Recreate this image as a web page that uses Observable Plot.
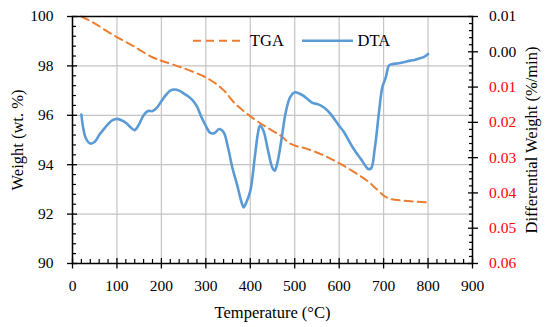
<!DOCTYPE html>
<html>
<head>
<meta charset="utf-8">
<script src="https://cdn.jsdelivr.net/npm/d3@7"></script>
<script src="https://cdn.jsdelivr.net/npm/@observablehq/plot@0.6"></script>
<style>
  html, body { margin: 0; padding: 0; background: #fff; }
  #wrap { position: relative; width: 550px; height: 327px; font-family: "Liberation Serif", "Times New Roman", serif; }
  #wrap svg text { font-family: "Liberation Serif", "Times New Roman", serif !important; }
  #legend { position: absolute; left: 0; top: 0; pointer-events: none; }
</style>
</head>
<body>
<div id="wrap"></div>
<script>
// ---- data ----
const seriesNames = ["TGA", "DTA"];
const seriesColors = ["#ED7D31", "#5B9BD5"];

// TGA: temperature (°C) vs weight (wt. %), left axis
const tgaTemp   = [20, 45, 90, 135, 180, 203, 248, 296, 318, 341, 363, 393, 431, 468, 491, 528, 566, 601, 641, 663, 686, 701, 716, 746, 800];
const tgaWeight = [100.0, 99.77, 99.27, 98.82, 98.35, 98.19, 97.92, 97.57, 97.34, 97.0, 96.53, 96.06, 95.58, 95.18, 94.84, 94.64, 94.37, 94.05, 93.62, 93.35, 92.98, 92.74, 92.61, 92.54, 92.47];

// DTA: temperature (°C) vs differential weight (%/min), right axis
const dtaTemp  = [20, 24, 30, 40, 50, 60, 70, 80, 90, 100, 110, 120, 130, 140, 150, 160, 170, 180, 190, 200,
                  210, 220, 230, 240, 250, 260, 270, 280, 290, 300, 310, 320, 330, 340, 350, 360, 370, 380, 385, 390,
                  400, 410, 418, 422, 430, 440, 450, 455, 460, 470, 480, 490, 500, 510, 520, 530, 540, 550, 560, 570,
                  580, 590, 600, 610, 620, 630, 640, 650, 660, 665, 672, 680, 690, 697, 705, 712, 720, 730, 740, 750,
                  760, 770, 780, 790, 800];
const dtaValue = [-0.0178, -0.0215, -0.0245, -0.0260, -0.0255, -0.0236, -0.0220, -0.0205, -0.0194, -0.0190,
                  -0.0194, -0.0201, -0.0213, -0.0222, -0.0205, -0.0180, -0.0168, -0.0168, -0.0158, -0.0140,
                  -0.0123, -0.0110, -0.0107, -0.0110, -0.0118, -0.0126, -0.0137, -0.0155, -0.0185, -0.0210,
                  -0.0230, -0.0230, -0.0219, -0.0228, -0.0272, -0.0330, -0.0375, -0.0425, -0.0441, -0.0430,
                  -0.0395, -0.0300, -0.0225, -0.0209, -0.0225, -0.0280, -0.0330, -0.0337, -0.0320, -0.0250,
                  -0.0170, -0.0128, -0.0115, -0.0118, -0.0125, -0.0135, -0.0145, -0.0148, -0.0153, -0.0162,
                  -0.0175, -0.0192, -0.0210, -0.0226, -0.0248, -0.0270, -0.0289, -0.0306, -0.0325, -0.0332,
                  -0.0330, -0.0275, -0.0167, -0.0101, -0.0072, -0.0039, -0.0035, -0.0033, -0.0031, -0.0028,
                  -0.0025, -0.0023, -0.0019, -0.0015, -0.0006];

// ticks
const xTicks      = [0, 100, 200, 300, 400, 500, 600, 700, 800, 900];
const yLeftTicks  = [90, 92, 94, 96, 98, 100];
const yRightTicks = [0.01, 0.00, -0.01, -0.02, -0.03, -0.04, -0.05, -0.06];
const xTitle = "Temperature (°C)";
const yLeftTitle = "Weight (wt. %)";
const yRightTitle = "Differential Weight (%/min)";

// ---- build ----
const serif = '"Liberation Serif", "Times New Roman", serif';
const rightDomain = [-0.06, 0.01];
const leftDomain = [90, 100];
const toLeft = v => leftDomain[0] + (v - rightDomain[0]) / (rightDomain[1] - rightDomain[0]) * (leftDomain[1] - leftDomain[0]);
const fromLeft = y => rightDomain[0] + (y - leftDomain[0]) / (leftDomain[1] - leftDomain[0]) * (rightDomain[1] - rightDomain[0]);

const tga = tgaTemp.map((t, i) => ({t, w: tgaWeight[i]}));
const dta = dtaTemp.map((t, i) => ({t, y: toLeft(dtaValue[i])}));

const xMinor = d3.range(0, 46).map(i => i * 20).filter(d => d % 100 !== 0);
const yLeftMinor = d3.range(0, 26).filter(i => i % 5 !== 0).map(i => 90 + i * 0.4);
const yRightMajor = yRightTicks.map(toLeft);
const yRightMinor = d3.range(0, 36).filter(i => i % 5 !== 0).map(i => toLeft(-0.06 + i * 0.002));
const rightBlack = yRightTicks.filter(v => v >= 0).map(toLeft);
const rightRed = yRightTicks.filter(v => v < 0).map(toLeft);
const fmtRight = d => Math.abs(fromLeft(d)).toFixed(2);

const grid = "#c4c4c4";
const chart = Plot.plot({
  width: 550,
  height: 327,
  marginLeft: 72,
  marginRight: 78,
  marginTop: 16,
  marginBottom: 64,
  style: {fontFamily: serif, fontSize: "15.5px", background: "white", color: "black", overflow: "visible"},
  x: {domain: [0, 900]},
  y: {domain: leftDomain},
  marks: [
    Plot.gridX(xTicks, {stroke: grid, strokeOpacity: 1, strokeWidth: 1.2}),
    Plot.gridY(yLeftTicks, {stroke: grid, strokeOpacity: 1, strokeWidth: 1.2}),
    Plot.line(tga, {x: "t", y: "w", stroke: seriesColors[0], strokeWidth: 2, strokeDasharray: "8,5", curve: "catmull-rom"}),
    Plot.line(dta, {x: "t", y: "y", stroke: seriesColors[1], strokeWidth: 2.6, curve: "catmull-rom"}),
    Plot.frame({stroke: "black", strokeWidth: 1.5}),
    // bottom axis ticks
    Plot.axisX(xTicks, {anchor: "bottom", tickSize: 5.5, fill: "none", label: null, strokeWidth: 1.3}),
    Plot.axisX(xTicks, {anchor: "bottom", tickSize: -5, fill: "none", label: null, strokeWidth: 1.3}),
    Plot.axisX(xMinor, {anchor: "bottom", tickSize: -4, fill: "none", label: null, strokeWidth: 1.2}),
    Plot.axisX(xTicks, {anchor: "bottom", tickSize: 0, tickPadding: 16, tickFormat: d => String(d),
      label: xTitle, labelAnchor: "center", labelOffset: 54, labelArrow: "none", fontSize: 15.5}),
    // left axis
    Plot.axisY(yLeftTicks, {anchor: "left", tickSize: 5, fill: "none", label: null, strokeWidth: 1.3}),
    Plot.axisY(yLeftTicks, {anchor: "left", tickSize: -5, fill: "none", label: null, strokeWidth: 1.3}),
    Plot.axisY(yLeftMinor, {anchor: "left", tickSize: -4, fill: "none", label: null, strokeWidth: 1.2}),
    Plot.axisY(yLeftTicks, {anchor: "left", tickSize: 0, tickPadding: 19, tickFormat: d => String(d),
      label: yLeftTitle, labelAnchor: "center", labelOffset: 61, labelArrow: "none", fontSize: 15.5}),
    // right axis
    Plot.axisY(yRightMajor, {anchor: "right", tickSize: 5, fill: "none", label: null, strokeWidth: 1.3}),
    Plot.axisY(yRightMajor, {anchor: "right", tickSize: -5, fill: "none", label: null, strokeWidth: 1.3}),
    Plot.axisY(yRightMinor, {anchor: "right", tickSize: -4, fill: "none", label: null, strokeWidth: 1.2}),
    Plot.axisY(rightBlack, {anchor: "right", tickSize: 0, tickPadding: 16.5, tickFormat: fmtRight,
      label: yRightTitle, labelAnchor: "center", labelOffset: 64, labelArrow: "none", fontSize: 15.5}),
    Plot.axisY(rightRed, {anchor: "right", tickSize: 0, tickPadding: 16.5, tickFormat: fmtRight,
      fill: "#ff0000", label: null, fontSize: 15.5, ariaLabel: "right-red-labels"})
  ]
});
// axis titles slightly larger than tick labels
d3.select(chart).selectAll("g[aria-label='x-axis label'] text, g[aria-label='y-axis label'] text")
  .style("font-size", "16.5px");
d3.select(chart).selectAll("g[aria-label='right-red-labels'] text").attr("fill", "#ff0000");
document.getElementById("wrap").appendChild(chart);

// ---- legend (inside plot area, no background) ----
const leg = d3.select("#wrap").append("svg")
  .attr("id", "legend").attr("width", 550).attr("height", 327)
  .style("font-family", serif).style("font-size", "16.5px");
const legItems = [
  {name: seriesNames[0], color: seriesColors[0], dash: "8,5", w: 2, x0: 193, x1: 243, tx: 250},
  {name: seriesNames[1], color: seriesColors[1], dash: null, w: 2.6, x0: 302, x1: 353, tx: 357.5}
];
const ly = 40.7;
for (const it of legItems) {
  leg.append("line").attr("x1", it.x0).attr("x2", it.x1).attr("y1", ly).attr("y2", ly)
    .attr("stroke", it.color).attr("stroke-width", it.w).attr("stroke-dasharray", it.dash);
  leg.append("text").attr("x", it.tx).attr("y", ly).attr("dy", "0.35em").attr("fill", "black").text(it.name);
}
</script>
</body>
</html>
